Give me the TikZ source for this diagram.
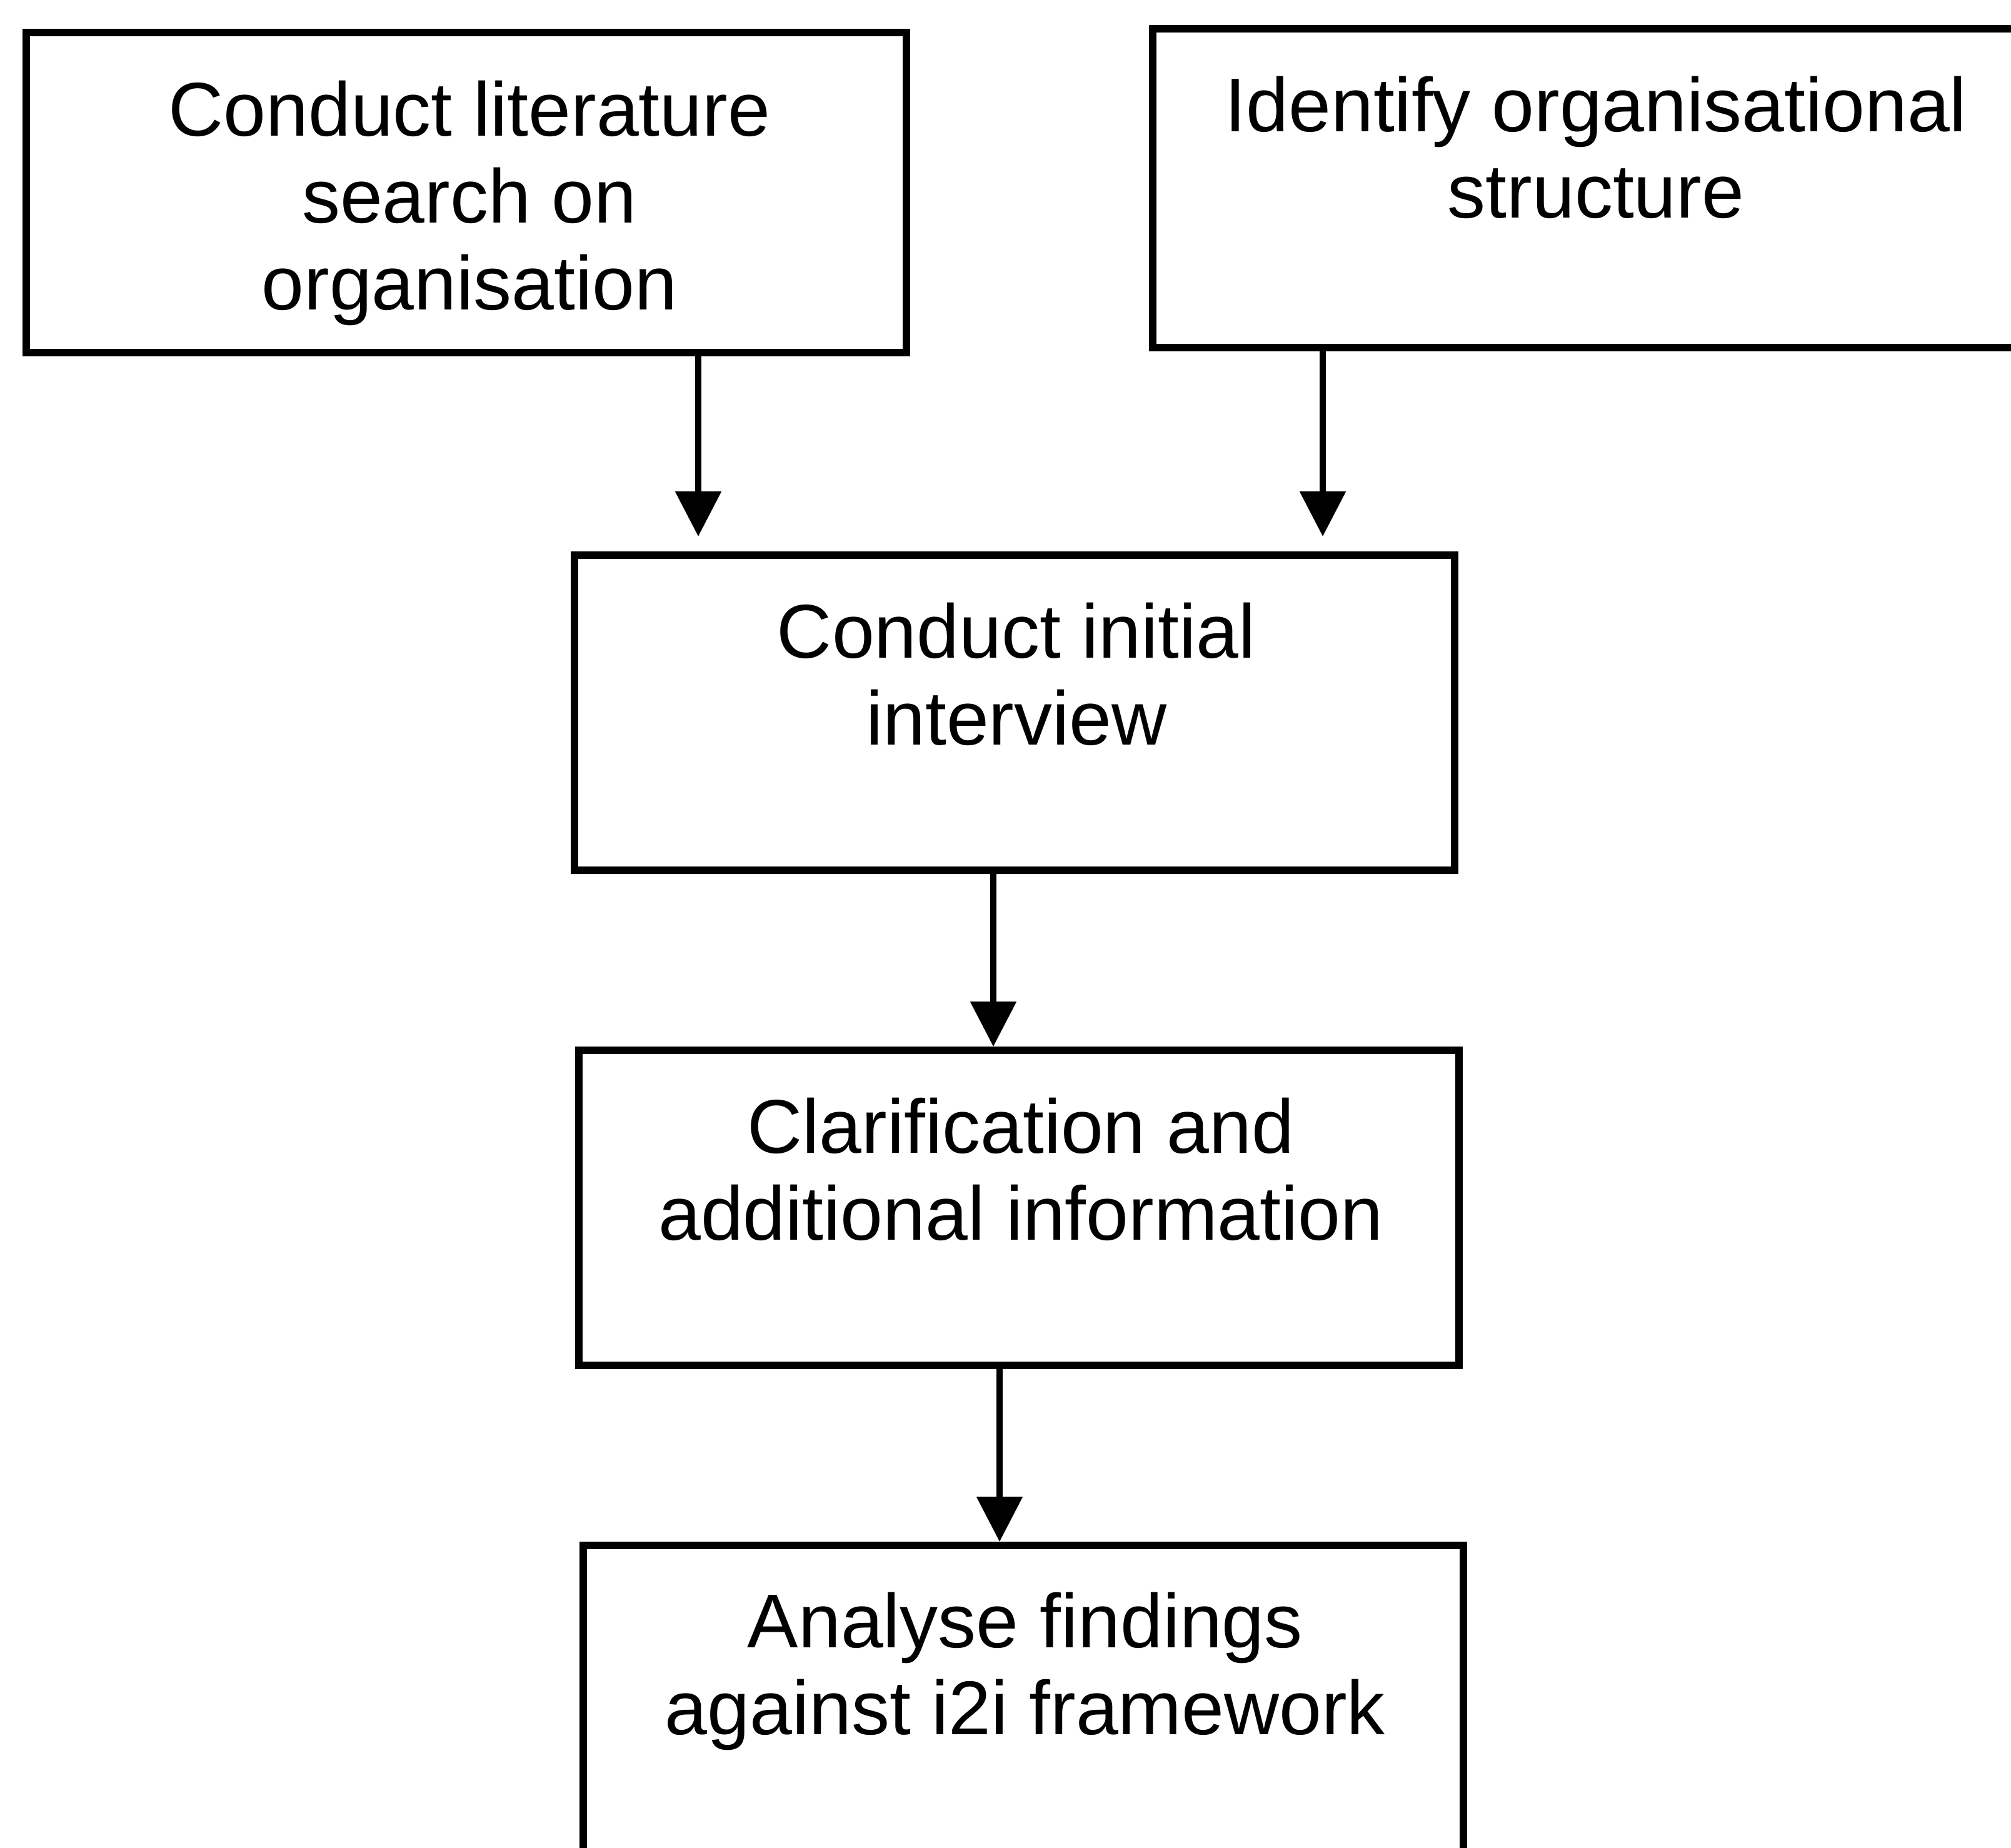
\documentclass[tikz,border=0pt]{standalone}
\usepackage{fontspec}
\setmainfont{Liberation Sans}
\usetikzlibrary{arrows.meta,calc}
\begin{document}
\begin{tikzpicture}[
  stepbox/.style={draw=black, line width=3.4pt, fill=white, minimum width=14.08cm,
    minimum height=5.04cm, anchor=north west, inner sep=0pt},
  lbl/.style={align=center, inner sep=0pt, anchor=base,
    font=\fontsize{34.7}{39.5}\selectfont},
  flow/.style={draw=black, line width=2.6pt,
    -{Triangle[length=0.72cm, width=0.72cm]}}
]
\useasboundingbox (0,0) rectangle (32.17,-29.56);

% process boxes
\node[stepbox, minimum height=5.12cm] (lit) at (0.36,-0.46) {};
\node[stepbox, minimum height=5.10cm] (org) at (18.38,-0.40) {};
\node[stepbox] (init)  at (9.13,-8.82)  {};
\node[stepbox] (clar)  at (9.20,-16.74) {};
\node[stepbox, minimum height=7cm] (anal) at (9.27,-24.66) {};

% box texts; the base anchor sits on the last line
\node[lbl] (litT)  at ($(lit.north)+(0.05,-4.49)$)  {Conduct literature\\search on\\organisation};
\node[lbl] (orgT)  at ($(org.north)+(0.05,-3.09)$)  {Identify organisational\\structure};
\node[lbl] (initT) at ($(init.north)+(0.03,-3.09)$) {Conduct initial\\interview};
\node[lbl] (clarT) at ($(clar.north)+(0.03,-3.09)$) {Clarification and\\additional information};
\node[lbl] (analT) at ($(anal.north)+(0.03,-3.08)$) {Analyse findings\\against i2i framework};

% arrow ends
\coordinate (litEnd) at (11.17,-8.58);
\coordinate (orgEnd) at (21.16,-8.58);
\coordinate (c3) at (15.89,0);
\coordinate (c4) at (15.99,0);

\draw[flow] (lit.south -| litEnd) -- (litEnd);
\draw[flow] (org.south -| orgEnd) -- (orgEnd);
\draw[flow] (init.south -| c3) -- (clar.north -| c3);
\draw[flow] (clar.south -| c4) -- (anal.north -| c4);
\end{tikzpicture}
\end{document}
